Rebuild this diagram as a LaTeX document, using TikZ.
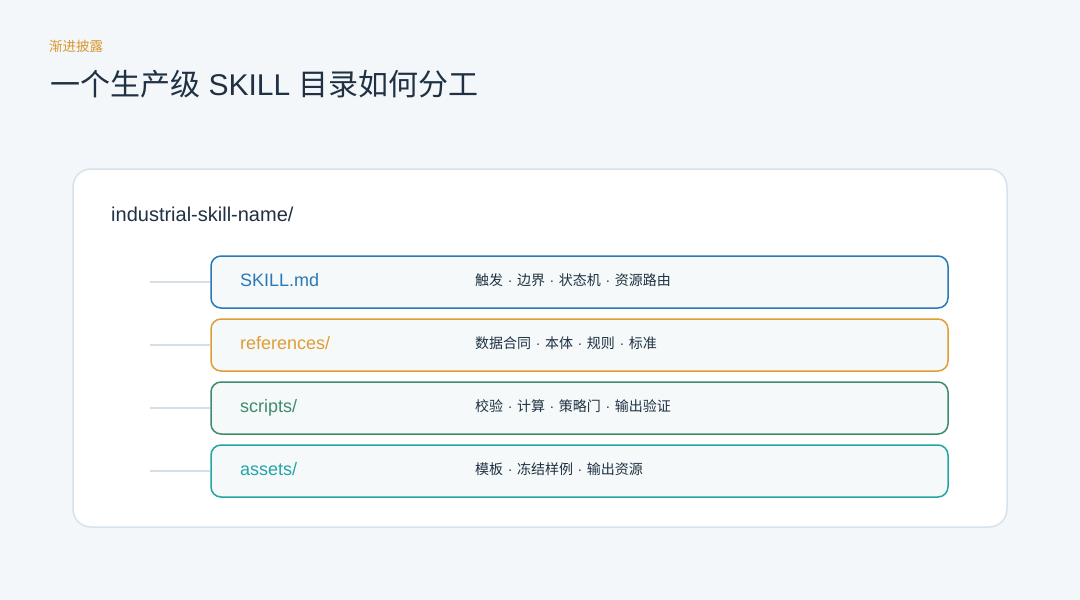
\documentclass[tikz,border=0pt]{standalone}
\usepackage{fontspec}
\setmainfont{Liberation Sans}
\newfontfamily\cjk{Noto Sans CJK SC}
\usepackage{tikz}

\definecolor{bgcol}{HTML}{F4F7FA}
\definecolor{cardline}{HTML}{D8E2EA}
\definecolor{stubcol}{HTML}{D6DFE7}
\definecolor{rowfill}{HTML}{F5F9FA}
\definecolor{inkcol}{HTML}{1F3142}
\definecolor{kickercol}{HTML}{D9962E}
\definecolor{cblue}{HTML}{2A79B6}
\definecolor{corange}{HTML}{DF9E33}
\definecolor{cgreen}{HTML}{3F8B6E}
\definecolor{cteal}{HTML}{23A5A8}

\newcommand{\dotsep}{{\rmfamily\hspace{4.6pt}·\hspace{4.6pt}}}

\tikzset{
  rowbox/.style={draw, line width=1.5pt, fill=rowfill, rounded corners=10pt,
    minimum width=737pt, minimum height=52pt, inner sep=0pt},
  stub/.style={draw=stubcol, line width=2pt},
  lbl/.style={anchor=base west, inner sep=0pt, font=\fontsize{18}{22}\selectfont},
  desc/.style={anchor=base west, inner sep=0pt, text=inkcol, font=\cjk\fontsize{14}{17}\selectfont}
}

\begin{document}
\begin{tikzpicture}[x=1pt,y=-1pt]
			\fill[bgcol] (0,0) rectangle (1080,600);
			\useasboundingbox (0,0) rectangle (1080,600);
			
			\node[anchor=base west, inner sep=0pt, text=kickercol, font=\cjk\fontsize{13.5}{16}\selectfont] (kicker) at (49,51){渐进披露};
			\node[anchor=base west, inner sep=0pt, text=inkcol, font=\fontsize{30}{36}\selectfont] (title) at (50,95){{\cjk 一个生产级} SKILL {\cjk 目录如何分工}};
			
			\node[draw=cardline, line width=1.5pt, fill=white, rounded corners=18pt, minimum width=934pt, minimum height=358pt] (card) at (540,348){};
			\node[anchor=base west, inner sep=0pt, text=inkcol, font=\fontsize{20}{24}\selectfont] (root) at (111,221){industrial-skill-name/};
			
			\foreach \y/\name/\txt/\col/\info in {
				282/skill/{SKILL.md}/cblue/{触发\dotsep 边界\dotsep 状态机\dotsep 资源路由},
				345/refs/{references/}/corange/{数据合同\dotsep 本体\dotsep 规则\dotsep 标准},
				408/scripts/{scripts/}/cgreen/{校验\dotsep 计算\dotsep 策略门\dotsep 输出验证},
				471/assets/{assets/}/cteal/{模板\dotsep 冻结样例\dotsep 输出资源}}{
				\node[rowbox, draw=\col] (row\name) at (579.5,\y){};
				\coordinate (stub\name) at (150,\y);
				\draw[stub] (stub\name) -- (row\name.west);
				\node[lbl, text=\col] (name\name) at (240,\y+4.5){\txt};
				\node[desc] (info\name) at (475,\y+3.5){\info};
			}
		\end{tikzpicture}
\end{document}
